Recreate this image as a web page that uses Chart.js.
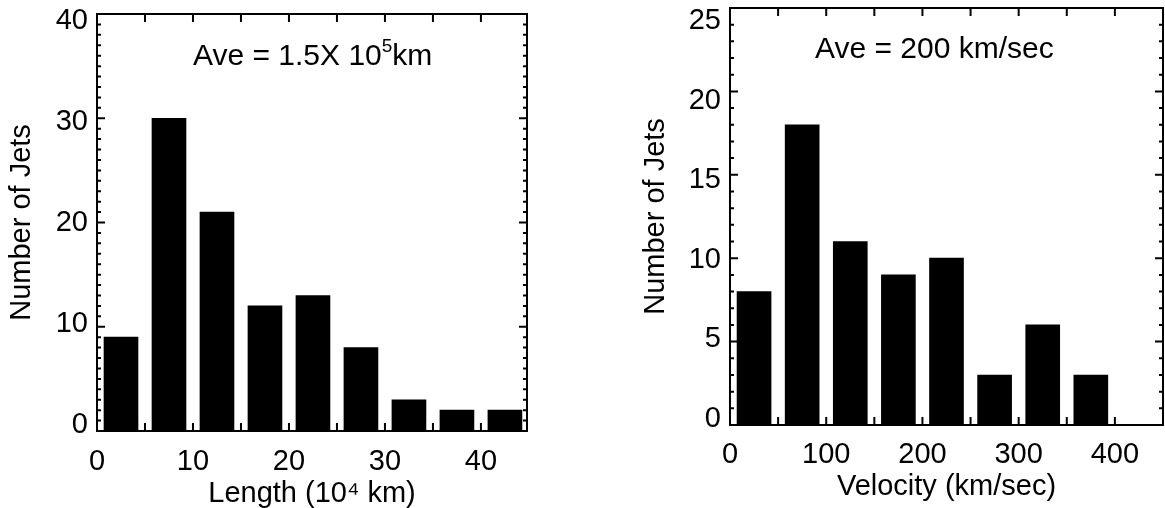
<!DOCTYPE html>
<html>
<head>
<meta charset="utf-8">
<script src="https://cdn.jsdelivr.net/npm/chart.js@4"></script>
<style>
  html, body { margin: 0; padding: 0; background: #fff; overflow: hidden; }
  canvas { position: absolute; top: 0; }
</style>
</head>
<body>
<canvas id="lengthChart" style="left:0" width="590" height="508"></canvas>
<canvas id="velocityChart" style="left:590px" width="575" height="508"></canvas>
<script>
const lengthBins = [2.5, 7.5, 12.5, 17.5, 22.5, 27.5, 32.5, 37.5, 42.5];
const lengthCounts = [9, 30, 21, 12, 13, 8, 3, 2, 2];
const lengthXLabels = [0, 10, 20, 30, 40];
const lengthYLabels = [0, 10, 20, 30, 40];

const velocityBins = [25, 75, 125, 175, 225, 275, 325, 375];
const velocityCounts = [8, 18, 11, 9, 10, 3, 6, 3];
const velocityXLabels = [0, 100, 200, 300, 400];
const velocityYLabels = [0, 5, 10, 15, 20, 25];

const FONT = "Liberation Sans, Arial, sans-serif";
const FONT_SIZE = 29;

// tick marks on all four sides plus the note inside the box
const frame = {
  id: "frame",
  afterDatasetsDraw(chart, args, o) {
    const { ctx, chartArea: a, scales: { x, y } } = chart;
    ctx.save();
    ctx.strokeStyle = "#000";
    ctx.lineWidth = 2;
    ctx.strokeRect(a.left, a.top, a.right - a.left, a.bottom - a.top);
    ctx.beginPath();
    for (let v = o.xStep; v < x.max; v += o.xStep) {
      const p = x.getPixelForValue(v);
      ctx.moveTo(p, a.bottom); ctx.lineTo(p, a.bottom - 8);
      ctx.moveTo(p, a.top); ctx.lineTo(p, a.top + 8);
    }
    for (let v = 1; v < y.max; v++) {
      const p = y.getPixelForValue(v);
      const len = v % o.yMajor === 0 ? 8 : 4;
      ctx.moveTo(a.left, p); ctx.lineTo(a.left + len, p);
      ctx.moveTo(a.right, p); ctx.lineTo(a.right - len, p);
    }
    ctx.stroke();
    ctx.fillStyle = "#000";
    ctx.textBaseline = "middle";
    // every second piece of the note is a superscript
    let noteX = o.noteX;
    o.note.forEach((part, i) => {
      const sup = i % 2 === 1;
      ctx.font = (sup ? 19 : 30) + "px " + FONT;
      ctx.fillText(part, noteX, sup ? o.noteY - 10 : o.noteY);
      noteX += ctx.measureText(part).width;
    });
    ctx.restore();
  }
};

function drawHistogram(id, bins, counts, cfg) {
  new Chart(document.getElementById(id), {
    type: "bar",
    data: {
      datasets: [{
        data: bins.map((b, i) => ({ x: b, y: counts[i] })),
        backgroundColor: "#000",
        barThickness: 34,
        xAxisID: "x",
        yAxisID: "y"
      }]
    },
    plugins: [frame],
    options: {
      responsive: false,
      animation: false,
      layout: { padding: { top: cfg.top, right: cfg.rightPad, left: 0, bottom: 0 } },
      plugins: {
        legend: { display: false },
        tooltip: { enabled: false },
        frame: { xStep: cfg.xStep, yMajor: cfg.yMajor, note: cfg.note, noteX: cfg.noteX, noteY: cfg.noteY }
      },
      scales: {
        x: {
          type: "linear", min: 0, max: cfg.xMax, position: "bottom", offset: false,
          grid: { display: false }, border: { display: false },
          ticks: { display: false },
          afterFit: s => { s.height = 0; s.paddingLeft = s.paddingRight = 0; }
        },
        y: {
          type: "linear", min: 0, max: cfg.yMax, position: "left",
          grid: { display: false }, border: { display: false },
          ticks: { display: false },
          afterFit: s => { s.width = 0; s.paddingTop = s.paddingBottom = 0; }
        },
        // the printed labels do not sit exactly on the ticks, so they get their own axes
        xText: {
          type: "linear", min: 0, max: cfg.xMax, position: "bottom", axis: "x", offset: false,
          grid: { display: false }, border: { display: false },
          afterBuildTicks: s => { s.ticks = cfg.xLabels.map(v => ({ value: v })); },
          ticks: { color: "#000", font: { family: FONT, size: FONT_SIZE }, padding: cfg.xPad, maxRotation: 0, autoSkip: false },
          title: { display: true, text: cfg.xTitle, color: "#000", font: { family: FONT, size: FONT_SIZE }, padding: { top: 0, bottom: cfg.xTitlePad } },
          afterFit: s => { s.height = 508 - cfg.bottom; s.paddingLeft = s.paddingRight = 0; }
        },
        yText: {
          type: "linear", min: cfg.yTextMin, max: cfg.yTextMax, position: "left", axis: "y",
          grid: { display: false }, border: { display: false },
          afterBuildTicks: s => { s.ticks = cfg.yLabels.map(v => ({ value: v })); },
          ticks: { color: "#000", font: { family: FONT, size: FONT_SIZE }, padding: 1, autoSkip: false },
          title: { display: true, text: "Number of Jets", color: "#000", font: { family: FONT, size: FONT_SIZE }, padding: { top: cfg.yTitlePad, bottom: 0 } },
          afterFit: s => { s.width = cfg.left; s.paddingTop = s.paddingBottom = 0; }
        }
      }
    }
  });
}

drawHistogram("lengthChart", lengthBins, lengthCounts, {
  left: 97, top: 14, bottom: 431, rightPad: 590 - 527,
  xMax: 44.8, yMax: 40, xStep: 5, yMajor: 10,
  yTextMin: -0.6, yTextMax: 40.7,
  xLabels: lengthXLabels, yLabels: lengthYLabels,
  xPad: 6, xTitlePad: -3, yTitlePad: 5,
  xTitle: "Length (10\u2074 km)",
  note: ["Ave = 1.5X 10", "5", "km"], noteX: 193, noteY: 57
});

drawHistogram("velocityChart", velocityBins, velocityCounts, {
  left: 140, top: 8, bottom: 425, rightPad: 575 - 573,
  xMax: 450, yMax: 25, xStep: 50, yMajor: 5,
  yTextMin: -0.38, yTextMax: 25.82,
  xLabels: velocityXLabels, yLabels: velocityYLabels,
  xPad: 5, xTitlePad: 4, yTitlePad: 49,
  xTitle: "Velocity (km/sec)",
  note: ["Ave = 200 km/sec"], noteX: 225, noteY: 50
});
</script>
</body>
</html>
